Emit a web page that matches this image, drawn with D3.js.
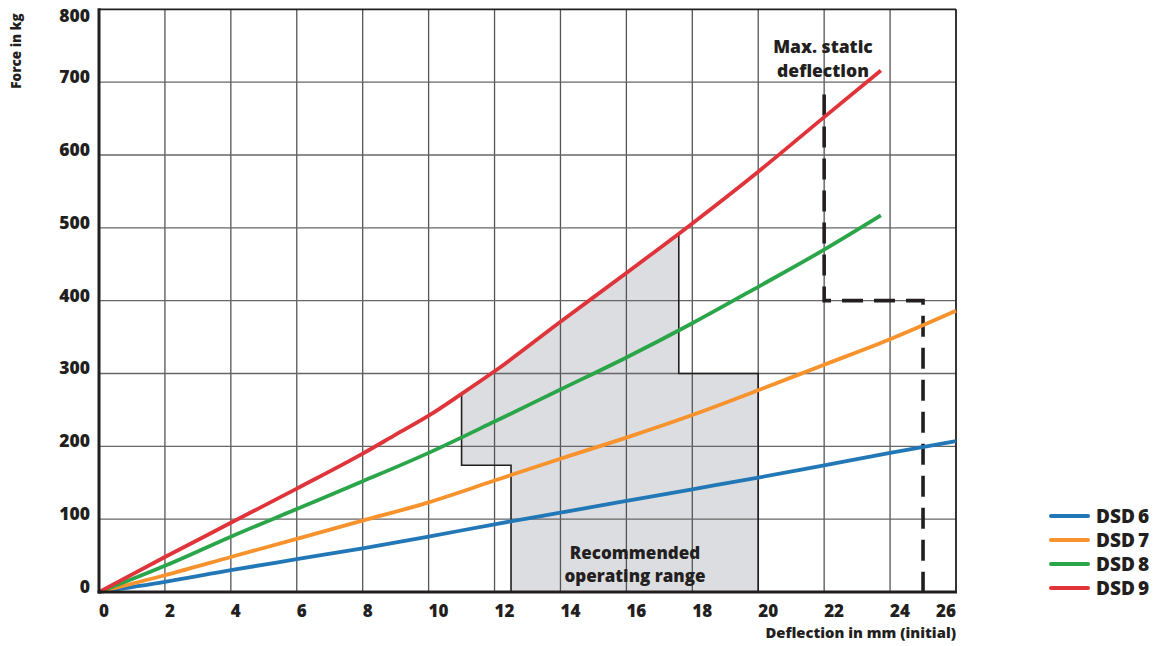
<!DOCTYPE html>
<html><head><meta charset="utf-8">
<script src="https://cdn.jsdelivr.net/npm/d3@7"></script>
<style>
body{margin:0;background:#fff}
svg{display:block}
text{font-family:"Open Sans",sans-serif;font-weight:800;fill:#231f20}
</style>
</head><body>
<svg id="c" width="1155" height="646"></svg>
<script>
// ---- data ----
const xTicks = [0,2,4,6,8,10,12,14,16,18,20,22,24,26];
const yTicks = [0,100,200,300,400,500,600,700,800];
const seriesNames = ["DSD 6","DSD 7","DSD 8","DSD 9"];
const seriesColors = ["#2277b6","#f7922c","#2ba54a","#e0343b"];
const dsd6X = [0,2,4,6,8,10,12,14,16,18,20,22,24,26];
const dsd6Y = [0,14,30,45,60,76,93,109,125,141,157,174,191,207];
const dsd7X = [0,2,4,6,8,10,12,14,16,18,20,22,24,26];
const dsd7Y = [0,23,48,73,98,123,153,183,212,243,277,312,347,386];
const dsd8X = [0,2,4,6,8,10,12,14,16,18,20,22,23.72];
const dsd8Y = [0,36,76,114,152,191,234,278,322,369,419,470,517];
const dsd9X = [0,2,4,6,8,9,10,11,12,14,16,18,20,22,23.72];
const dsd9Y = [0,48,95,142,190,216,242,272,303,371,438,506,577,652,716];
// recommended operating range (shaded area)
const rangeX = [11,12,14,16,17.59,17.59,20,20,12.5,12.5,11];
const rangeY = [272,303,371,438,492,300,300,0,0,174,174];
const rangeBorderA_X = [17.59,17.59,20,20];
const rangeBorderA_Y = [492,300,300,0];
const rangeBorderB_X = [12.5,12.5,11,11];
const rangeBorderB_Y = [0,174,174,272];
// max static deflection (dashed)
const maxX = [22,22,25,25];
const maxY = [683,400,400,0];

// ---- layout ----
const svg = d3.select("#c");
const x = d3.scaleLinear().domain([0,26]).range([99,956]);
const y = d3.scaleLinear().domain([0,800]).range([592,9.3]);
const ink = "#231f20";
const zip = (a,b)=>a.map((v,i)=>[v,b[i]]);

// shaded area
svg.append("path")
  .attr("d", d3.line().x(d=>x(d[0])).y(d=>y(d[1]))(zip(rangeX,rangeY)) + "Z")
  .attr("fill","#dcdde0");

// grid
const g = svg.append("g");
g.selectAll(".vg").data(xTicks.filter(t=>t>0&&t<26)).join("line")
  .attr("x1",d=>x(d)).attr("x2",d=>x(d)).attr("y1",y(800)).attr("y2",y(0))
  .attr("stroke","#555").attr("stroke-width",1.3);
g.selectAll(".hg").data(yTicks.filter(t=>t>0&&t<800)).join("line")
  .attr("y1",d=>y(d)).attr("y2",d=>y(d)).attr("x1",x(0)).attr("x2",x(26))
  .attr("stroke","#666").attr("stroke-width",1.3);

// frame
svg.append("line").attr("x1",x(0)).attr("x2",x(26)).attr("y1",y(800)).attr("y2",y(800)).attr("stroke",ink).attr("stroke-width",1.8);
svg.append("line").attr("x1",x(26)).attr("x2",x(26)).attr("y1",y(800)).attr("y2",y(0)).attr("stroke",ink).attr("stroke-width",1.8);

// range borders
const lin = d3.line().x(d=>x(d[0])).y(d=>y(d[1]));
svg.append("path").attr("d",lin(zip(rangeBorderA_X,rangeBorderA_Y))).attr("fill","none").attr("stroke",ink).attr("stroke-width",1.6);
svg.append("path").attr("d",lin(zip(rangeBorderB_X,rangeBorderB_Y))).attr("fill","none").attr("stroke",ink).attr("stroke-width",1.6);

// dashed max static deflection
svg.append("path").attr("d",lin(zip(maxX,maxY))).attr("fill","none")
  .attr("stroke",ink).attr("stroke-width",3.6).attr("stroke-dasharray","21,11");

// curves
const curve = d3.line().x(d=>x(d[0])).y(d=>y(d[1])).curve(d3.curveMonotoneX);
const series = [zip(dsd6X,dsd6Y),zip(dsd7X,dsd7Y),zip(dsd8X,dsd8Y),zip(dsd9X,dsd9Y)];
series.forEach((s,i)=>{
  svg.append("path").attr("d",curve(s)).attr("fill","none")
    .attr("stroke",seriesColors[i]).attr("stroke-width",3.8).attr("stroke-linecap","butt");
});

// axes lines (thick)
svg.append("line").attr("x1",x(0)).attr("x2",x(0)).attr("y1",y(800)-1).attr("y2",y(0)+1.5).attr("stroke",ink).attr("stroke-width",3);
svg.append("line").attr("x1",x(0)-1.5).attr("x2",x(26)+1).attr("y1",y(0)).attr("y2",y(0)).attr("stroke",ink).attr("stroke-width",3);

// tick labels
svg.selectAll(".xt").data(xTicks).join("text")
  .attr("x",d=>x(d)).attr("y",617)
  .attr("text-anchor",d=>d===26?"end":"start")
  .attr("font-size",17).text(d=>d);
svg.selectAll(".yt").data(yTicks).join("text")
  .attr("x",90).attr("y",d=>d===800?22:y(d)+1)
  .attr("text-anchor","end").attr("font-size",17.5).text(d=>d);

// axis titles
svg.append("text").attr("x",956).attr("y",638).attr("text-anchor","end")
  .attr("font-size",14.8).text("Deflection in mm (initial)");
svg.append("text").attr("transform","translate(21,51) rotate(-90)").attr("text-anchor","middle")
  .attr("font-size",13.5).text("Force in kg");

// annotations
svg.append("text").attr("x",823).attr("y",53).attr("text-anchor","middle").attr("font-size",17.5).text("Max. static");
svg.append("text").attr("x",823).attr("y",77).attr("text-anchor","middle").attr("font-size",17.5).text("deflection");
svg.append("text").attr("x",635).attr("y",559).attr("text-anchor","middle").attr("font-size",17).text("Recommended");
svg.append("text").attr("x",635).attr("y",582).attr("text-anchor","middle").attr("font-size",17).text("operating range");

// legend
const lg = svg.append("g");
seriesNames.forEach((n,i)=>{
  const ly = 516 + i*24;
  lg.append("line").attr("x1",1051).attr("x2",1088).attr("y1",ly).attr("y2",ly)
    .attr("stroke",seriesColors[i]).attr("stroke-width",4).attr("stroke-linecap","round");
  lg.append("text").attr("x",1096).attr("y",ly+6.5).attr("font-size",19).text(n.replace(" ","\u2009"));
});
</script>
</body></html>
